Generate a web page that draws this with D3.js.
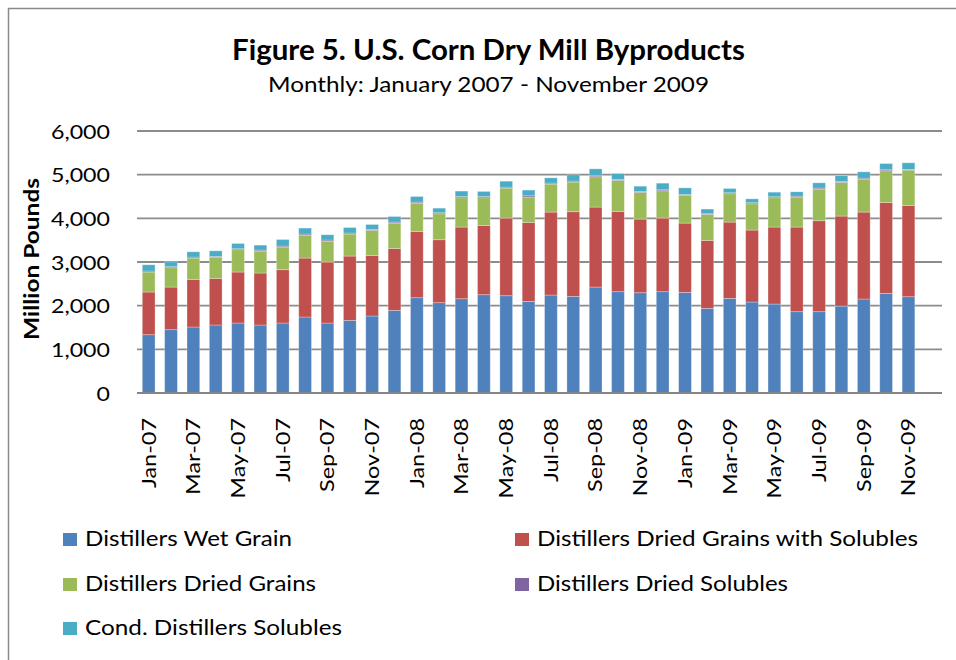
<!DOCTYPE html>
<html><head><meta charset="utf-8">
<script src="https://cdn.jsdelivr.net/npm/d3@7/dist/d3.min.js"></script>
<style>body{margin:0;background:#fff}</style></head>
<body>
<svg id="c" width="956" height="660"></svg>
<script>
// ---- data (million pounds) ----
const months = ["Jan-07","Feb-07","Mar-07","Apr-07","May-07","Jun-07","Jul-07","Aug-07","Sep-07","Oct-07","Nov-07","Dec-07",
  "Jan-08","Feb-08","Mar-08","Apr-08","May-08","Jun-08","Jul-08","Aug-08","Sep-08","Oct-08","Nov-08","Dec-08",
  "Jan-09","Feb-09","Mar-09","Apr-09","May-09","Jun-09","Jul-09","Aug-09","Sep-09","Oct-09","Nov-09","Dec-09"];
const tickLabels = ["Jan-07","Mar-07","May-07","Jul-07","Sep-07","Nov-07","Jan-08","Mar-08","May-08","Jul-08","Sep-08","Nov-08",
  "Jan-09","Mar-09","May-09","Jul-09","Sep-09","Nov-09"];
const yTicks = [0,1000,2000,3000,4000,5000,6000];
const seriesNames = ["Distillers Wet Grain","Distillers Dried Grains with Solubles","Distillers Dried Grains","Distillers Dried Solubles","Cond. Distillers Solubles"];
const seriesColors = ["#4F81BD","#C0504D","#9BBB59","#8064A2","#4BACC6"];

const wetGrain = [1335,1450,1511,1557,1602,1557,1602,1740,1602,1663,1763,1892,
  2182,2068,2159,2251,2228,2098,2243,2213,2426,2320,2297,2320,
  2304,1938,2167,2083,2037,1862,1862,1991,2152,2281,2205];
const ddgs = [977,976,1091,1068,1168,1190,1221,1350,1397,1473,1388,1419,
  1519,1442,1641,1587,1778,1809,1900,1938,1832,1838,1686,1686,
  1587,1557,1747,1648,1763,1938,2083,2061,1991,2083,2091];
const ddg = [458,443,488,480,511,503,519,519,473,504,572,580,
  648,595,671,633,686,579,641,679,694,710,610,625,
  634,595,649,603,671,686,725,770,755,725,808];
const dds = [23,23,23,23,23,23,23,30,30,23,23,23,
  23,23,30,30,23,30,23,23,23,23,23,23,
  23,15,23,23,23,23,23,23,23,23,16];
const cds = [143,112,120,128,120,113,150,138,122,127,113,128,
  128,105,123,115,136,131,120,143,158,135,120,151,
  150,107,97,89,105,98,120,135,143,143,152];

const seriesValues = [wetGrain, ddgs, ddg, dds, cds];
const rows = wetGrain.map((_, i) => {
  const r = {month: months[i]};
  seriesNames.forEach((n, k) => r[n] = seriesValues[k][i]);
  return r;
});

// ---- drawing ----
const svg = d3.select("#c");
const FONT = "Lato, 'Open Sans', sans-serif";

svg.append("rect").attr("x", 8.5).attr("y", 8.5).attr("width", 1000).attr("height", 700)
  .attr("fill", "#fff").attr("stroke", "#8a8a8a").attr("stroke-width", 1.5);

const x = d3.scaleBand().domain(months).range([137.5, 942]).paddingInner(0.43).paddingOuter(0.215);
const y = d3.scaleLinear().domain([0, 6000]).range([393, 131]);

function stretch(sel, target) {
  sel.each(function() {
    const t = d3.select(this);
    t.attr("textLength", target).attr("lengthAdjust", "spacingAndGlyphs");
  });
}
function stretchBy(sel, k) {
  sel.each(function() {
    const n = this.getComputedTextLength();
    d3.select(this).attr("textLength", n * k).attr("lengthAdjust", "spacingAndGlyphs");
  });
}

// gridlines
svg.append("g").selectAll("line").data(yTicks.filter(d => d > 0)).join("line")
  .attr("x1", 137).attr("x2", 942).attr("y1", d => y(d)).attr("y2", d => y(d))
  .attr("stroke", "#8c8c8c").attr("stroke-width", 1.8);

// bars
const stack = d3.stack().keys(seriesNames)(rows);
svg.append("g").selectAll("g").data(stack).join("g")
  .attr("fill", (d, i) => seriesColors[i])
  .selectAll("rect").data(d => d).join("rect")
  .attr("x", d => x(d.data.month))
  .attr("width", x.bandwidth())
  .attr("y", d => y(d[1]))
  .attr("height", d => y(d[0]) - y(d[1]))
  .attr("stroke", "rgba(255,255,255,0.35)").attr("stroke-width", 0.8);

// x axis line
svg.append("line").attr("x1", 137).attr("x2", 942).attr("y1", y(0)).attr("y2", y(0))
  .attr("stroke", "#858585").attr("stroke-width", 2);

// y axis
const yAxis = svg.append("g").attr("transform", "translate(110,0)")
  .call(d3.axisLeft(y).tickValues(yTicks).tickFormat(d3.format(",")).tickSize(0).tickPadding(0));
yAxis.select(".domain").remove();
yAxis.selectAll("text").attr("font-family", FONT).attr("font-size", 20).attr("fill", "#000").attr("dy", "0.36em");
{
  const ref = yAxis.selectAll("text").filter(d => d === 6000).node();
  const k = 59 / ref.getComputedTextLength();
  stretchBy(yAxis.selectAll("text"), k);
}

// x labels
const xl = svg.append("g").selectAll("text").data(tickLabels).join("text")
  .attr("transform", d => `translate(${x(d) + x.bandwidth() / 2},418) rotate(-90)`)
  .attr("text-anchor", "end").attr("dy", "0.36em")
  .attr("font-family", FONT).attr("font-size", 19).attr("fill", "#000")
  .text(d => d);
{
  const k = 70 / xl.filter(d => d === "Jan-07").node().getComputedTextLength();
  stretchBy(xl, k);
}

// y title
svg.append("text").attr("transform", "translate(39,259) rotate(-90)")
  .attr("text-anchor", "middle").attr("font-family", FONT).attr("font-weight", "bold")
  .attr("font-size", 20).attr("fill", "#000").text("Million Pounds")
  .call(stretch, 162);

// titles
svg.append("text").attr("x", 488.5).attr("y", 60).attr("text-anchor", "middle")
  .attr("font-family", FONT).attr("font-weight", "bold").attr("font-size", 28).attr("fill", "#000")
  .text("Figure 5. U.S. Corn Dry Mill Byproducts").call(stretch, 513);
svg.append("text").attr("x", 488.5).attr("y", 92).attr("text-anchor", "middle")
  .attr("font-family", FONT).attr("font-size", 21).attr("fill", "#000")
  .text("Monthly: January 2007 - November 2009").call(stretch, 441);

// legend
const legendPos = [
  {sx: 63, tx: 85, by: 546, w: 207},
  {sx: 515, tx: 537, by: 546, w: 381},
  {sx: 63, tx: 85, by: 591, w: 231},
  {sx: 515, tx: 537, by: 591, w: 251},
  {sx: 63, tx: 85, by: 635, w: 257}
];
const lg = svg.append("g").selectAll("g").data(seriesNames).join("g");
lg.append("rect").attr("x", (d, i) => legendPos[i].sx).attr("y", (d, i) => legendPos[i].by - 13)
  .attr("width", 14).attr("height", 13).attr("fill", (d, i) => seriesColors[i]);
lg.append("text").attr("x", (d, i) => legendPos[i].tx).attr("y", (d, i) => legendPos[i].by)
  .attr("font-family", FONT).attr("font-size", 22).attr("fill", "#000").text(d => d)
  .each(function(d, i) { d3.select(this).attr("textLength", legendPos[i].w).attr("lengthAdjust", "spacingAndGlyphs"); });
</script>
</body></html>
